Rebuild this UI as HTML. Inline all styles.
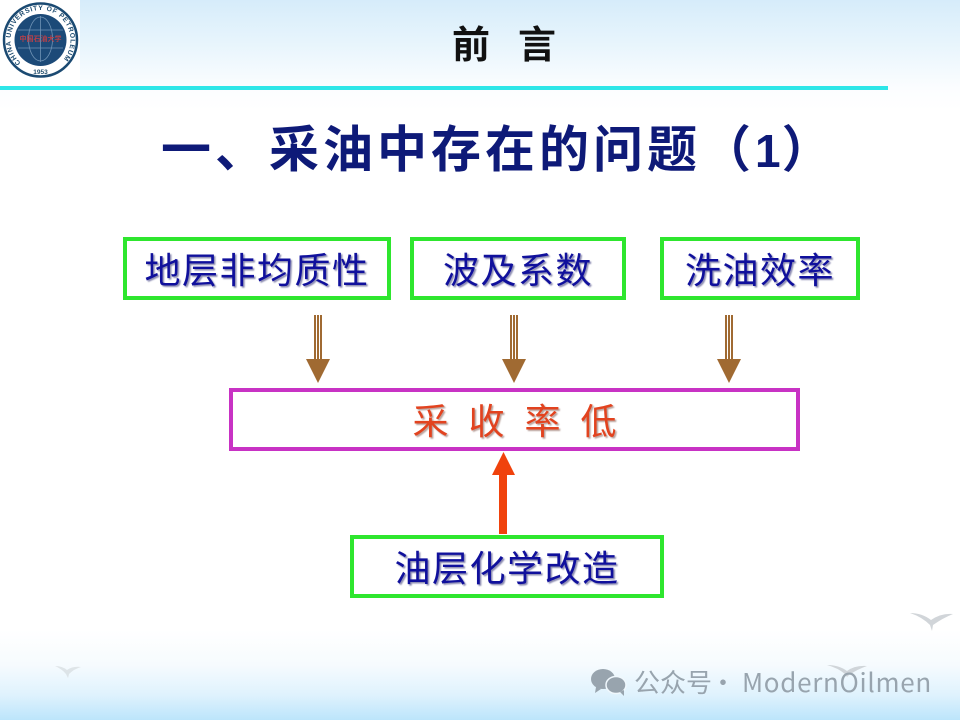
<!DOCTYPE html>
<html><head><meta charset="utf-8"><style>
html,body{margin:0;padding:0}
#p{position:relative;width:960px;height:720px;overflow:hidden;background:linear-gradient(to bottom,#d6ecfa 0,#e6f4fc 40px,#fbfdff 88px,#fff 110px,#fff 630px,#f6fbfe 665px,#dff2fd 695px,#bce5fb 720px);font-family:"Liberation Sans","Noto Sans CJK SC",sans-serif}
.a{position:absolute}
.b{position:absolute;box-sizing:border-box;height:63px;border:4px solid #2ee62e;background:#fff;display:flex;align-items:center;justify-content:center;white-space:nowrap;font-size:36px;font-weight:400;color:#10109c;letter-spacing:1.500px;text-shadow:1.500px 1.500px 1.500px #8a8ab0;padding-bottom:2px}
.w{position:absolute;top:664px;font-size:26px;line-height:36px;color:#98a4ae;white-space:nowrap;font-family:'Noto Sans CJK SC',sans-serif}
</style></head><body><div id="p">
<div class="a" style="left:0;top:0;width:80px;height:86px;background:#fff"></div>
<svg class="a" style="left:0;top:0;filter:blur(.3px)" width="80" height="80" viewBox="0 0 80 80">
<circle cx="40.500" cy="40" r="36.500" fill="#fff" stroke="#1b4a72" stroke-width="2.500"/>
<circle cx="40.500" cy="40" r="26" fill="#1c4a78"/>
<ellipse cx="40.500" cy="39" rx="12" ry="22" fill="none" stroke="#6f93b5" stroke-width=".8"/>
<path d="M18 30H63M18 48H63M40.500 16V62" stroke="#6f93b5" stroke-width=".8" fill="none"/>
<path id="c" d="M20.800 62.600A30 30 0 1 1 60.200 62.600" fill="none"/>
<text font-family="Liberation Sans" font-size="6.800" font-weight="700" fill="#1f4c70"><textPath href="#c" textLength="140">CHINA UNIVERSITY OF PETROLEUM</textPath></text>
<text x="40.500" y="41" text-anchor="middle" font-family="Noto Sans CJK SC" font-size="7" font-weight="700" fill="#b3404a">中国石油大学</text>
<text x="40.500" y="74" text-anchor="middle" font-family="Liberation Sans" font-size="6.500" font-weight="700" fill="#24506f">1953</text>
</svg>
<div class="a" style="left:0;top:86px;width:888px;height:4px;background:#2ee6e8"></div>
<div class="a" style="left:452px;top:22px;font-size:38px;line-height:48px;font-weight:700;color:#111;white-space:nowrap;letter-spacing:28px">前言</div>
<div class="a" style="left:161px;top:119px;font-size:50px;line-height:62px;font-weight:700;color:#0e1a78;white-space:nowrap;letter-spacing:4px">一、采油中存在的问题（<span style="font-size:46px;font-family:'Liberation Sans',sans-serif;font-weight:700;letter-spacing:1px">1</span>）</div>

<div class="b" style="left:123px;top:237px;width:268px">地层非均质性</div>
<div class="b" style="left:410px;top:237px;width:216px">波及系数</div>
<div class="b" style="left:660px;top:237px;width:200px">洗油效率</div>
<div class="b" style="left:229px;top:388px;width:571px;border-color:#c832c4;color:#e2431f;letter-spacing:20px;padding-left:20px;text-shadow:1.500px 1.500px 1.500px #b8a09a">采收率低</div>
<div class="b" style="left:350px;top:535px;width:314px">油层化学改造</div>

<svg class="a" style="left:0;top:0" width="960" height="720">
<g fill="#a06a32">
<path d="M314 315h2v45h-2zM317 315h2v45h-2zM320 315h2v45h-2zM306 359h24l-12 24z"/>
<path d="M510 315h2v45h-2zM513 315h2v45h-2zM516 315h2v45h-2zM502 359h24l-12 24z"/>
<path d="M725 315h2v45h-2zM728 315h2v45h-2zM731 315h2v45h-2zM717 359h24l-12 24z"/>
</g>
<path d="M499 534V475H492L503.500 452L515 475H507V534Z" fill="#f0420c"/>
<g fill="#c9ced2" opacity=".85">
<path d="M910 613q12 0 21 7q10-7 22-6q-10 4-20 11l-1 6l-2-6q-8-8-20-12z"/>
<path d="M827 665q12 0 20 6q8-6 20-5q-9 3-18 9l-2 2l-2-3q-7-6-18-9z"/>
<path d="M55 666q7 0 12 4q6-4 14-3q-7 2-12 7l-1 4l-2-4q-4-5-11-8z" opacity=".6"/>
</g>
<g fill="#98a4ae">
<ellipse cx="603" cy="679" rx="12" ry="10"/>
<path d="M596 687l-1 6 6-4z"/>
<ellipse cx="616" cy="685" rx="10" ry="8.500" stroke="#f0f8fd" stroke-width="1.500"/>
<path d="M620 692l4 4v-6z"/>
</g>
</svg>
<div class="w" style="left:634px">公众号</div>
<div class="w" style="left:710px">·</div>
<div class="w" style="left:742px;letter-spacing:.7px">ModernOilmen</div>
</div></body></html>
